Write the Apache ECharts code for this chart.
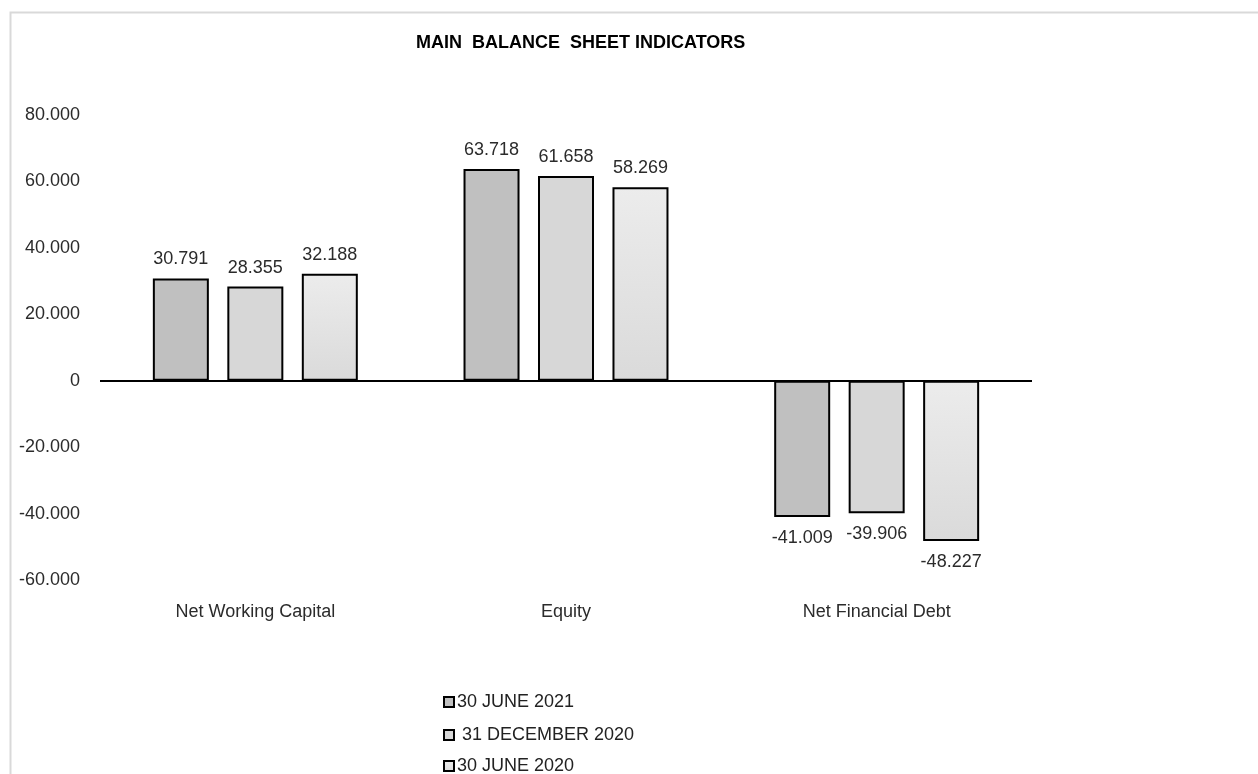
<!DOCTYPE html>
<html>
<head>
<meta charset="utf-8">
<script src="https://cdn.jsdelivr.net/npm/echarts@6/dist/echarts.min.js"></script>
<style>
html,body{margin:0;padding:0;background:#fff;}
#c{width:1258px;height:774px;}
</style>
</head>
<body>
<div id="c"></div>
<script>
const categories = ['Net Working Capital', 'Equity', 'Net Financial Debt'];
const seriesNames = ['30 JUNE 2021', ' 31 DECEMBER 2020', '30 JUNE 2020'];
const june2021 = [30791, 63718, -41009];
const dec2020 = [28355, 61658, -39906];
const june2020 = [32188, 58269, -48227];
const yTicks = [-60000, -40000, -20000, 0, 20000, 40000, 60000, 80000];

const FONT = '"Liberation Sans", Arial, sans-serif';
function fmt(v) {
  if (v === 0) return '0';
  return (v / 1000).toFixed(3);
}
const fills = [
  '#c0c0c0',
  '#d7d7d7',
  new echarts.graphic.LinearGradient(0, 0, 0, 1, [
    { offset: 0, color: '#ececec' },
    { offset: 1, color: '#dadada' }
  ])
];
const allData = [june2021, dec2020, june2020];

function makeSeries(i) {
  return {
    name: seriesNames[i],
    type: 'bar',
    barWidth: 56,
    barGap: '33%',
    itemStyle: { color: fills[i], borderColor: '#000', borderWidth: 2 },
    label: {
      show: true,
      distance: 10,
      fontFamily: FONT,
      fontSize: 18,
      color: '#2b2b2b',
      formatter: p => fmt(p.value)
    },
    data: allData[i].map(v => ({
      value: v,
      label: { position: v < 0 ? 'bottom' : 'top', distance: v < 0 ? 12 : 10 }
    })),
    markLine: i === 0 ? {
      silent: true,
      symbol: 'none',
      label: { show: false },
      lineStyle: { color: '#000', width: 2, type: 'solid' },
      data: [{ yAxis: 0 }]
    } : undefined
  };
}

const legendTops = [693, 726, 757];

const chart = echarts.init(document.getElementById('c'), null, { renderer: 'canvas' });
chart.setOption({
  animation: false,
  backgroundColor: '#fff',
  graphic: [{
    type: 'rect',
    shape: { x: 10.5, y: 12.5, width: 1400, height: 900 },
    style: { fill: 'none', stroke: '#d9d9d9', lineWidth: 2 },
    silent: true,
    z: -10
  }],
  title: {
    text: 'MAIN  BALANCE  SHEET INDICATORS',
    left: 416,
    top: 34,
    padding: 0,
    textStyle: { fontFamily: FONT, fontSize: 18, fontWeight: 'bold', color: '#000' }
  },
  grid: { left: 100, right: 226, top: 115, bottom: 194, containLabel: false },
  xAxis: {
    type: 'category',
    data: categories,
    axisLine: { show: false, onZero: false },
    axisTick: { show: false },
    axisLabel: { fontFamily: FONT, fontSize: 18, color: '#2b2b2b', margin: 23 }
  },
  yAxis: {
    type: 'value',
    min: -60000,
    max: 80000,
    interval: 20000,
    splitLine: { show: false },
    axisLine: { show: false },
    axisTick: { show: false },
    axisLabel: {
      fontFamily: FONT, fontSize: 18, color: '#2b2b2b',
      align: 'right', margin: 20,
      formatter: v => fmt(v)
    }
  },
  legend: seriesNames.map((n, i) => ({
    orient: 'vertical',
    left: 443,
    top: legendTops[i],
    padding: 0,
    icon: 'rect',
    itemWidth: 10,
    itemHeight: 10,
    itemGap: 0,
    itemStyle: { borderColor: '#000', borderWidth: 2 },
    textStyle: { fontFamily: FONT, fontSize: 18, color: '#222', lineHeight: 16, padding: [0, 0, 0, -2] },
    data: [n]
  })),
  series: [0, 1, 2].map(makeSeries)
});
</script>
</body>
</html>
